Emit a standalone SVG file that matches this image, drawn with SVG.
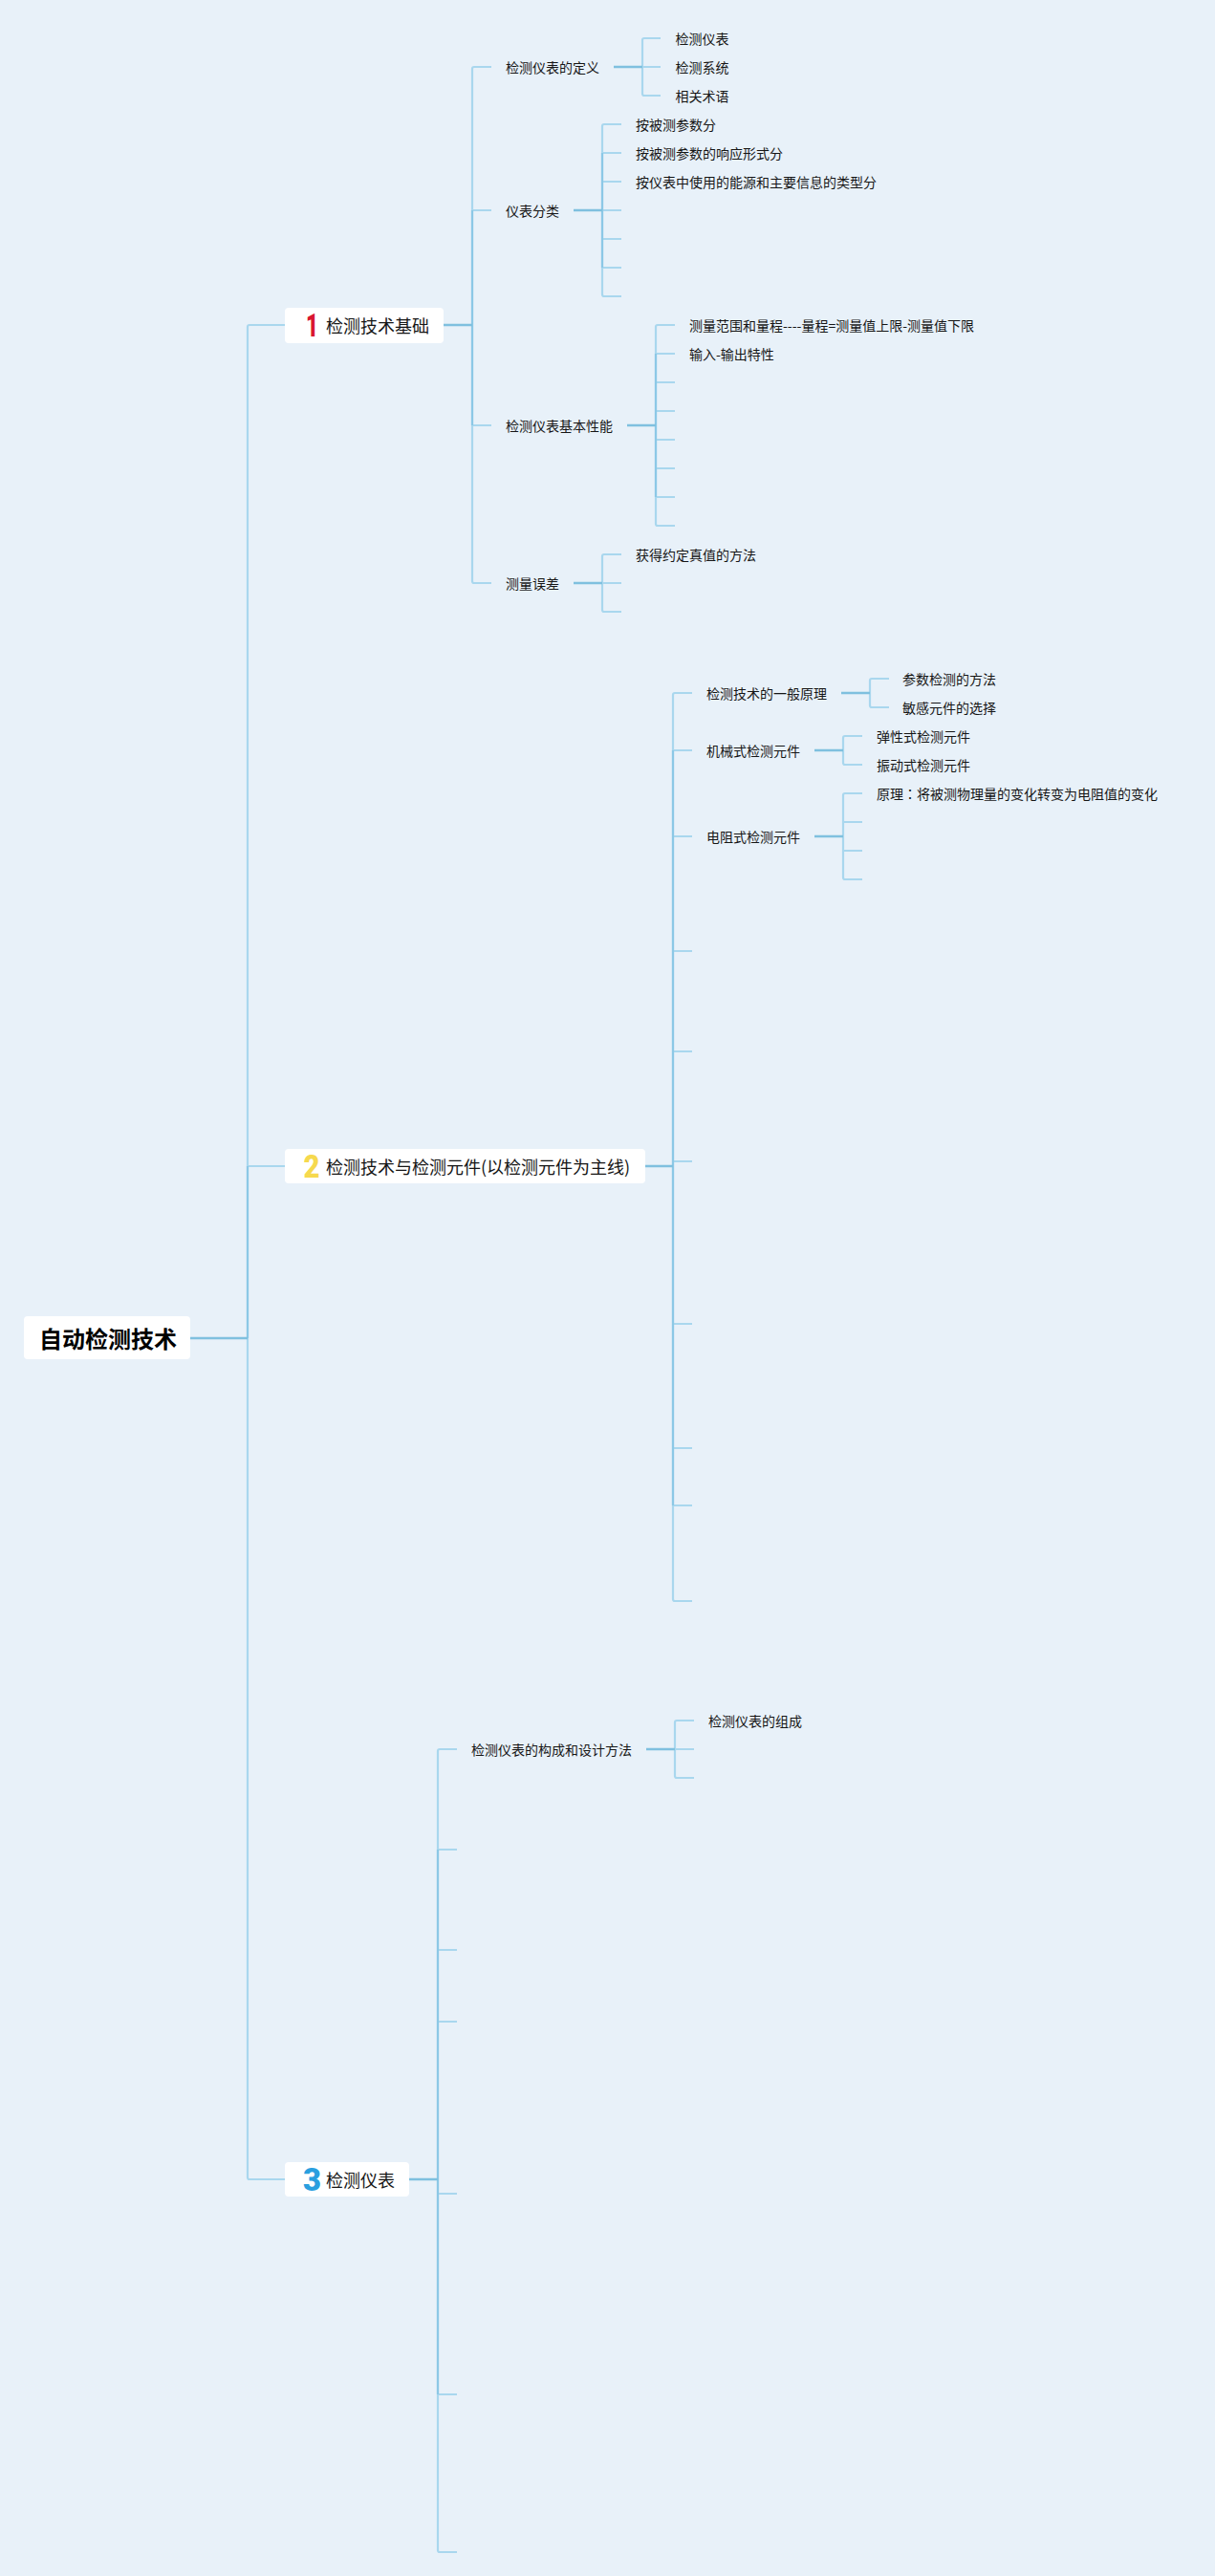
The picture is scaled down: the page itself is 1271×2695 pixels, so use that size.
<svg xmlns="http://www.w3.org/2000/svg" width="1271" height="2695" viewBox="0 0 1271 2695">
<style>
text{font-family:"Noto Sans CJK SC","Noto Sans",sans-serif;fill:#161616}
.t{font-size:14px}
.m{font-size:18px}
.r{font-size:24px;font-weight:700;fill:#000}
.n{font-family:Roboto,"Liberation Sans",sans-serif;font-size:34px;font-weight:900}
.c{font-family:"Noto Sans CJK TC",sans-serif}
.b{fill:#fff}
#connectors path{fill:none;stroke-linecap:butt}
.l{stroke:#a9d7ee;stroke-width:2.2}
.d{stroke:#8cc8e6;stroke-width:2.2}
.p{stroke:#7fc0df;stroke-width:2.5}
</style>
<rect width="1271" height="2695" fill="#e8f1f9"/>
<g id="connectors">
<path class="l" d="M298 340H261Q259 340 259 342V2278Q259 2280 261 2280H298M259 1220H298"/>
<path class="d" d="M259 1220V1400"/>
<path class="p" d="M199 1400H259"/>
<path class="l" d="M514 70H496Q494 70 494 72V608Q494 610 496 610H514M494 220H514M494 445H514"/>
<path class="d" d="M494 220V445"/>
<path class="p" d="M464 340H494"/>
<path class="l" d="M691 40H674Q672 40 672 42V98Q672 100 674 100H691M672 70H691"/>
<path class="p" d="M642 70H672"/>
<path class="l" d="M650 130H632Q630 130 630 132V308Q630 310 632 310H650M630 160H650M630 190H650M630 220H650M630 250H650M630 280H650"/>
<path class="d" d="M630 160V280"/>
<path class="p" d="M600 220H630"/>
<path class="l" d="M706 340H688Q686 340 686 342V548Q686 550 688 550H706M686 370H706M686 400H706M686 430H706M686 460H706M686 490H706M686 520H706"/>
<path class="d" d="M686 370V520"/>
<path class="p" d="M656 445H686"/>
<path class="l" d="M650 580H632Q630 580 630 582V638Q630 640 632 640H650M630 610H650"/>
<path class="p" d="M600 610H630"/>
<path class="l" d="M724 725H706Q704 725 704 727V1673Q704 1675 706 1675H724M704 785H724M704 875H724M704 995H724M704 1100H724M704 1215H724M704 1385H724M704 1515H724M704 1575H724"/>
<path class="d" d="M704 785V1575"/>
<path class="p" d="M675 1220H704"/>
<path class="l" d="M930 710H912Q910 710 910 712V738Q910 740 912 740H930"/>
<path class="p" d="M880 725H910"/>
<path class="l" d="M902 770H884Q882 770 882 772V798Q882 800 884 800H902"/>
<path class="p" d="M852 785H882"/>
<path class="l" d="M902 830H884Q882 830 882 832V918Q882 920 884 920H902M882 860H902M882 890H902"/>
<path class="p" d="M852 875H882"/>
<path class="l" d="M478 1830H460Q458 1830 458 1832V2668Q458 2670 460 2670H478M458 1935H478M458 2040H478M458 2115H478M458 2295H478M458 2505H478"/>
<path class="d" d="M458 1935V2505"/>
<path class="p" d="M428 2280H458"/>
<path class="l" d="M726 1800H708Q706 1800 706 1802V1858Q706 1860 708 1860H726M706 1830H726"/>
<path class="p" d="M676 1830H706"/>
</g>
<g id="root"><rect class="b" x="25" y="1377" width="174" height="45" rx="4"/><text class="r" x="41" y="1410">自动检测技术</text></g>
<g id="topic-1"><rect class="b" x="298" y="322" width="166" height="37" rx="4"/><text class="n" x="320" y="352" textLength="13" lengthAdjust="spacingAndGlyphs" style="fill:#d9172f">1</text><text class="m" x="341" y="347.5">检测技术基础</text></g>
<g id="topic-2"><rect class="b" x="298" y="1202" width="377" height="36" rx="4"/><text class="n" x="317.5" y="1232" textLength="17" lengthAdjust="spacingAndGlyphs" style="fill:#f6d94e">2</text><text class="m" x="341" y="1227.5">检测技术与检测元件(以检测元件为主线)</text></g>
<g id="topic-3"><rect class="b" x="298" y="2262" width="130" height="36" rx="4"/><text class="n" x="317" y="2292" textLength="19" lengthAdjust="spacingAndGlyphs" style="fill:#2a9fdf">3</text><text class="m" x="341" y="2287.5">检测仪表</text></g>
<g id="n1-1"><text class="t" x="529" y="75.5">检测仪表的定义</text></g>
<g id="n1-1-1"><text class="t" x="706.5" y="45.5">检测仪表</text></g>
<g id="n1-1-2"><text class="t" x="706.5" y="75.5">检测系统</text></g>
<g id="n1-1-3"><text class="t" x="706.5" y="105.5">相关术语</text></g>
<g id="n1-2"><text class="t" x="529" y="225.5">仪表分类</text></g>
<g id="n1-2-1"><text class="t" x="665" y="135.5">按被测参数分</text></g>
<g id="n1-2-2"><text class="t" x="665" y="165.5">按被测参数的响应形式分</text></g>
<g id="n1-2-3"><text class="t" x="665" y="195.5">按仪表中使用的能源和主要信息的类型分</text></g>
<g id="n1-3"><text class="t" x="529" y="450.5">检测仪表基本性能</text></g>
<g id="n1-3-1"><text class="t" x="721" y="345.5">测量范围和量程----量程=测量值上限-测量值下限</text></g>
<g id="n1-3-2"><text class="t" x="721" y="375.5">输入-输出特性</text></g>
<g id="n1-4"><text class="t" x="529" y="615.5">测量误差</text></g>
<g id="n1-4-1"><text class="t" x="665" y="585.5">获得约定真值的方法</text></g>
<g id="n2-1"><text class="t" x="739" y="730.5">检测技术的一般原理</text></g>
<g id="n2-1-1"><text class="t" x="944" y="715.5">参数检测的方法</text></g>
<g id="n2-1-2"><text class="t" x="944" y="745.5">敏感元件的选择</text></g>
<g id="n2-2"><text class="t" x="739" y="790.5">机械式检测元件</text></g>
<g id="n2-2-1"><text class="t" x="917" y="775.5">弹性式检测元件</text></g>
<g id="n2-2-2"><text class="t" x="917" y="805.5">振动式检测元件</text></g>
<g id="n2-3"><text class="t" x="739" y="880.5">电阻式检测元件</text></g>
<g id="n2-3-1"><text class="t" x="917" y="835.5">原理<tspan class="c">：</tspan>将被测物理量的变化转变为电阻值的变化</text></g>
<g id="n3-1"><text class="t" x="493" y="1835.5">检测仪表的构成和设计方法</text></g>
<g id="n3-1-1"><text class="t" x="741" y="1805.5">检测仪表的组成</text></g>
</svg>
